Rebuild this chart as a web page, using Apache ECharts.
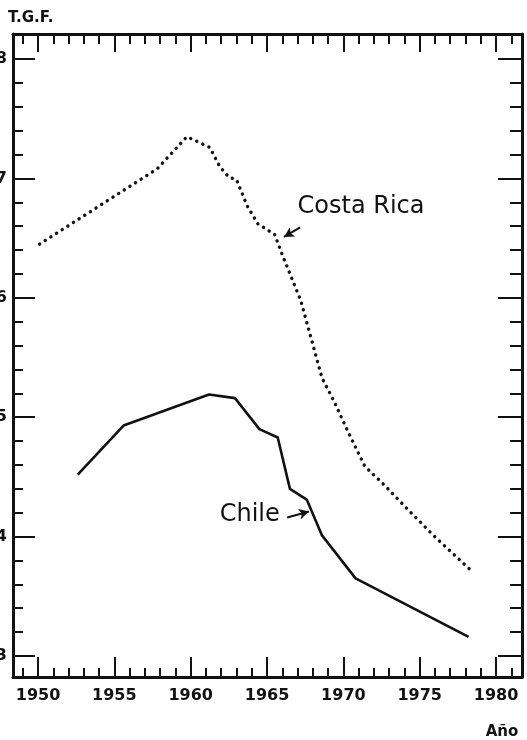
<!DOCTYPE html>
<html>
<head>
<meta charset="utf-8">
<script src="https://cdn.jsdelivr.net/npm/echarts@6/dist/echarts.min.js"></script>
<style>
html,body{margin:0;padding:0;background:#fff;}
#chart{width:527px;height:740px;}
</style>
</head>
<body>
<div id="chart"></div>
<script>
// ---- data ----
const costaRicaYears  = [1950.1, 1957.8, 1959.75, 1961.25, 1961.9, 1962.5, 1963.0, 1963.7, 1964.4, 1965.5, 1966.0, 1967.2, 1968.6, 1969.4, 1970.3, 1971.4, 1972.7, 1974.2, 1975.9, 1978.5];
const costaRicaValues = [6.45,   7.08,   7.35,    7.26,    7.10,   7.01,   6.99,   6.77,   6.62,   6.53,   6.36,   5.98,   5.33,   5.13,   4.88,   4.59,   4.43,   4.23,   4.01,   3.70];
const chileYears  = [1952.6, 1955.6, 1961.2, 1962.9, 1964.5, 1965.7, 1966.5, 1967.6, 1968.6, 1970.8, 1978.2];
const chileValues = [4.52,   4.93,   5.19,   5.16,   4.90,   4.83,   4.40,   4.31,   4.01,   3.65,   3.16];

const xMajorTicks = [1950, 1955, 1960, 1965, 1970, 1975, 1980];
const xMinorTicks = [1949, 1951, 1952, 1953, 1954, 1956, 1957, 1958, 1959, 1961, 1962, 1963, 1964, 1966, 1967, 1968, 1969, 1971, 1972, 1973, 1974, 1976, 1977, 1978, 1979, 1981];
const yMajorTicks = [3, 4, 5, 6, 7, 8];
const yMinorTicks = [3.2, 3.4, 3.6, 3.8, 4.2, 4.4, 4.6, 4.8, 5.2, 5.4, 5.6, 5.8, 6.2, 6.4, 6.6, 6.8, 7.2, 7.4, 7.6, 7.8, 8.2];

const seriesNames = ['Costa Rica', 'Chile'];
const yTitle = 'T.G.F.';
const xTitle = 'Año';
// annotation anchors in data units [year, value]
const costaRicaLabelAt = [1967.0, 6.76];
const costaRicaArrow = [[1967.17, 6.59], [1966.11, 6.51]];
const chileLabelAt = [1961.9, 4.18];
const chileArrow = [[1966.32, 4.16], [1967.75, 4.21]];

const X_MIN = 1948.36, X_MAX = 1981.7, Y_MIN = 2.824, Y_MAX = 8.21;
const INK = '#111';
const FONT = 'DejaVu Sans';

function zip(a, b) { return a.map((v, i) => [v, b[i]]); }

function xAx(position, ticks, len, showLine, showLabel) {
  return {
    type: 'value', position: position, min: X_MIN, max: X_MAX,
    splitLine: {show: false},
    axisLine: {show: showLine, onZero: false, lineStyle: {color: INK, width: 3}},
    axisTick: {show: true, inside: true, length: len, customValues: ticks, lineStyle: {color: INK, width: 2}},
    axisLabel: showLabel ? {show: true, customValues: ticks, margin: 11, color: INK, fontFamily: FONT, fontWeight: 'bold', fontSize: 16,
                            formatter: (v) => String(v)}
                         : {show: false}
  };
}
function yAx(position, ticks, len, showLine, showLabel) {
  return {
    type: 'value', position: position, min: Y_MIN, max: Y_MAX,
    splitLine: {show: false},
    axisLine: {show: showLine, onZero: false, lineStyle: {color: INK, width: 3}},
    axisTick: {show: true, inside: true, length: len, customValues: ticks, lineStyle: {color: INK, width: 2}},
    axisLabel: showLabel ? {show: true, customValues: ticks, margin: 6, color: INK, fontFamily: FONT, fontWeight: 'bold', fontSize: 16,
                            formatter: (v) => String(v)}
                         : {show: false}
  };
}

const chart = echarts.init(document.getElementById('chart'), null, {renderer: 'canvas'});
const arrowLine = (pts) => ({
  silent: true, symbol: ['none', 'arrow'], symbolSize: [8, 10],
  lineStyle: {type: 'solid', color: INK, width: 2},
  label: {show: false},
  data: [[{coord: pts[0]}, {coord: pts[1]}]]
});

chart.setOption({
  animation: false,
  backgroundColor: '#fff',
  grid: {left: 13, right: 5, top: 34, bottom: 63, containLabel: false, outerBoundsMode: 'none'},
  xAxis: [
    xAx('bottom', xMajorTicks, 20, true, true),
    xAx('bottom', xMinorTicks, 9, false, false),
    xAx('top', xMajorTicks, 18, true, false),
    xAx('top', xMinorTicks, 10, false, false)
  ],
  yAxis: [
    yAx('left', yMajorTicks, 22, true, true),
    yAx('left', yMinorTicks, 10, false, false),
    yAx('right', yMajorTicks, 24, true, false),
    yAx('right', yMinorTicks, 12, false, false)
  ],
  series: [
    {
      name: seriesNames[0], type: 'line', xAxisIndex: 0, yAxisIndex: 0,
      data: zip(costaRicaYears, costaRicaValues), showSymbol: false, symbol: 'none',
      lineStyle: {color: INK, width: 3.4, type: [0.1, 6.6], cap: 'round'},
      markLine: arrowLine(costaRicaArrow)
    },
    {
      name: seriesNames[1], type: 'line', xAxisIndex: 0, yAxisIndex: 0,
      data: zip(chileYears, chileValues), showSymbol: false, symbol: 'none',
      lineStyle: {color: INK, width: 2.6, type: 'solid', join: 'round'},
      markLine: arrowLine(chileArrow)
    }
  ]
});

const pCR = chart.convertToPixel({seriesIndex: 0}, costaRicaLabelAt);
const pCh = chart.convertToPixel({seriesIndex: 0}, chileLabelAt);
chart.setOption({
  graphic: [
    {type: 'text', x: 8, y: 18, style: {text: yTitle, fill: INK, fontFamily: FONT, fontWeight: 'bold', fontSize: 15, textAlign: 'left', verticalAlign: 'middle'}},
    {type: 'text', x: 502, y: 732, style: {text: xTitle, fill: INK, fontFamily: FONT, fontWeight: 'bold', fontSize: 15, textAlign: 'center', verticalAlign: 'middle'}},
    {type: 'text', x: pCR[0], y: pCR[1], style: {text: seriesNames[0], fill: INK, fontFamily: FONT, fontSize: 24, textAlign: 'left', verticalAlign: 'middle'}},
    {type: 'text', x: pCh[0], y: pCh[1], style: {text: seriesNames[1], fill: INK, fontFamily: FONT, fontSize: 24, textAlign: 'left', verticalAlign: 'middle'}}
  ]
});
</script>
</body>
</html>
